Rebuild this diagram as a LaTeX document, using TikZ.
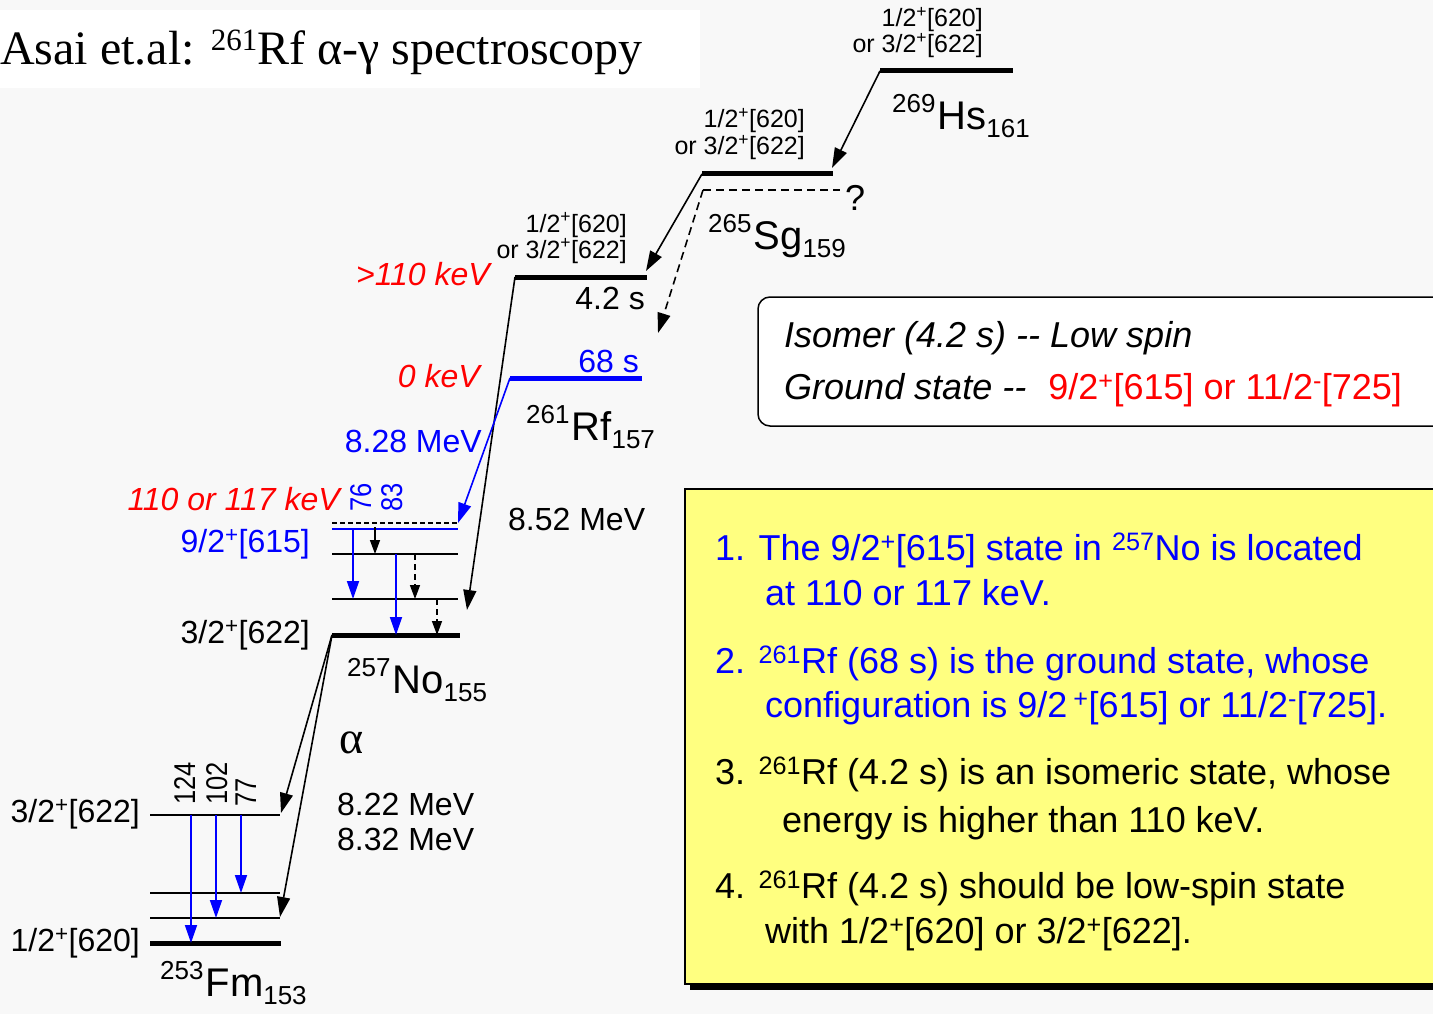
\documentclass[tikz,border=0pt]{standalone}
\usepackage{fontspec}
\setmainfont{Liberation Sans}
\newfontfamily\titlefont{Liberation Serif}
\newfontfamily\rotfont[FakeStretch=0.85]{Liberation Sans}
\usetikzlibrary{arrows.meta}
\definecolor{pureblue}{HTML}{0000FF}
\definecolor{purered}{HTML}{FF0000}
\definecolor{note}{HTML}{FFFF80}
\definecolor{paper}{HTML}{F8F8F8}
\newcommand\fs[1]{\fontsize{#1}{#1}\selectfont}
\newcommand\nuc[3]{{\fs{26}\raisebox{17pt}{#1}}\kern2pt{\fs{40}#2}{\fs{26}\raisebox{-8pt}{#3}}}
\newcommand\orbp[2]{#1\textsuperscript{+}[#2]}
\newcommand\orbm[2]{#1\textsuperscript{-}[#2]}
\tikzset{
  lvl/.style={line width=5pt},
  sublvl/.style={line width=1.6pt},
  decay/.style={-{Triangle[length=20pt,width=13pt]}, line width=1.6pt},
  gam/.style={-{Triangle[length=18pt,width=12pt]}, line width=1.8pt, pureblue},
  cas/.style={-{Triangle[length=14pt,width=10pt]}, line width=1.5pt},
  txt/.style={inner sep=0pt},
  orb/.style={txt, anchor=base east, font=\fs{25}},
  lbl/.style={txt, font=\fs{32}},
  keV/.style={txt, anchor=base east, font=\fs{32}\itshape, purered},
  gline/.style={txt, rotate=90, anchor=base west, font=\rotfont\fs{30}},
  item/.style={txt, anchor=base west, font=\fs{36}},
}
\begin{document}
\begin{tikzpicture}[x=1pt,y=-1pt]
  \useasboundingbox (0,0) rectangle (1433,1014);
  \clip (0,0) rectangle (1433,1014);
  \fill[paper] (0,0) rectangle (1433,1014);
  \fill[white] (0,10) rectangle (700,88);
  \node[txt, anchor=base west, font=\titlefont\fs{48}] (title) at (0,65)
    {Asai et.al: {\fs{31}\raisebox{14pt}{261}}Rf α-γ spectroscopy};

  % levels
  \coordinate (hsL) at (880,71);  \coordinate (hsR) at (1013,71);
  \coordinate (sgL) at (702,174); \coordinate (sgR) at (833,174);
  \coordinate (sgdL) at (703,190); \coordinate (sgdR) at (840,190);
  \coordinate (rfiL) at (515,277); \coordinate (rfiR) at (647,277);
  \coordinate (rfgL) at (510,378); \coordinate (rfgR) at (642,378);
  \draw[lvl] (hsL) -- (hsR);
  \draw[lvl] (sgL) -- (sgR);
  \draw[sublvl, dash pattern=on 8pt off 5pt] (sgdL) -- (sgdR);
  \draw[lvl] (rfiL) -- (rfiR);
  \draw[lvl, pureblue] (rfgL) -- (rfgR);
  \foreach \y/\c in {554/black, 599/black} {
    \draw[sublvl, \c] (332,\y) -- (458,\y);
  }
  \coordinate (noA) at (332,523); \coordinate (noAr) at (458,523);
  \coordinate (noB) at (332,529); \coordinate (noBr) at (458,529);
  \coordinate (noL) at (332,635); \coordinate (noR) at (460,635);
  \draw[sublvl, dash pattern=on 5pt off 3pt] (noA) -- (noAr);
  \draw[line width=2pt, pureblue] (noB) -- (noBr);
  \draw[lvl] (noL) -- (noR);
  \coordinate (fmA) at (150,815); \coordinate (fmAr) at (280,815);
  \coordinate (fmL) at (150,943); \coordinate (fmR) at (281,943);
  \draw[sublvl] (fmA) -- (fmAr);
  \draw[sublvl] (150,893) -- (280,893);
  \draw[sublvl] (150,918) -- (280,918);
  \draw[lvl] (fmL) -- (fmR);

  % alpha decays
  \coordinate (sgTip) at (832,168);
  \coordinate (rfiTip) at (646,271);
  \coordinate (rfdTip) at (658,333);
  \coordinate (noTip) at (467,610);
  \coordinate (fmTipA) at (281,813);
  \coordinate (fmTipB) at (280,917);
  \draw[decay] (hsL) -- (sgTip);
  \draw[decay] (sgL) -- (rfiTip);
  \draw[decay, dash pattern=on 8pt off 5pt] (sgdL) -- (rfdTip);
  \draw[decay] (rfiL) -- (noTip);
  \draw[decay, pureblue] (rfgL) -- (noAr);
  \draw[decay] (noL) -- (fmTipA);
  \draw[decay] (noL) -- (fmTipB);

  % gamma lines
  \draw[gam] (353,529) -- (353,599);
  \draw[gam] (396,554) -- (396,635);
  \draw[cas] (375,527) -- (375,554);
  \draw[cas, dash pattern=on 6pt off 4pt] (415,554) -- (415,599);
  \draw[cas, dash pattern=on 6pt off 4pt] (437,599) -- (437,635);
  \draw[gam] (191,815) -- (191,943);
  \draw[gam] (216,815) -- (216,918);
  \draw[gam] (241,815) -- (241,893);
  \node[gline, pureblue] (g76) at (371,512) {76};
  \node[gline, pureblue] (g83) at (402,512) {83};
  \node[gline] (g124) at (195,805) {124};
  \node[gline] (g102) at (227,805) {102};
  \node[gline] (g77) at (256,807) {77};

  % level labels
  \node[orb] (hsA) at (983,27) {\orbp{1/2}{620}};
  \node[orb] (hsB) at (983,53) {or \orbp{3/2}{622}};
  \node[orb] (sgA) at (805,128) {\orbp{1/2}{620}};
  \node[orb] (sgB) at (805,155) {or \orbp{3/2}{622}};
  \node[orb] (rfA) at (627,232) {\orbp{1/2}{620}};
  \node[orb] (rfB) at (627,258) {or \orbp{3/2}{622}};
  \node[txt, anchor=base west, font=\fs{40}] (hs) at (892,130) {\nuc{269}{Hs}{161}};
  \node[txt, anchor=base west, font=\fs{40}] (sg) at (708,249) {\nuc{265}{Sg}{159}};
  \node[txt, anchor=base west, font=\fs{40}] (rf) at (526,440) {\nuc{261}{Rf}{157}};
  \node[txt, anchor=base west, font=\fs{40}] (no) at (347,693) {\nuc{257}{No}{155}};
  \node[txt, anchor=base west, font=\fs{40}] (fm) at (160,996) {\nuc{253}{Fm}{153}};
  \node[txt, anchor=base west, font=\fs{36}] (qm) at (845,211) {?};
  \node[lbl, anchor=base east] (t42) at (645,309) {4.2 s};
  \node[lbl, anchor=base east, pureblue] (t68) at (639,372) {68 s};
  \node[keV] (eIso) at (490,285) {>110 keV};
  \node[keV] (eGs) at (480,387) {0 keV};
  \node[keV] (eNo) at (340,510) {110 or 117 keV};
  \node[lbl, anchor=base east, pureblue] (q828) at (482,452) {8.28 MeV};
  \node[lbl, anchor=base west] (q852) at (508,530) {8.52 MeV};
  \node[lbl, anchor=base east, pureblue] (no92) at (310,552) {\orbp{9/2}{615}};
  \node[lbl, anchor=base east] (no32) at (310,643) {\orbp{3/2}{622}};
  \node[lbl, anchor=base east] (fm32) at (140,822) {\orbp{3/2}{622}};
  \node[lbl, anchor=base east] (fm12) at (140,951) {\orbp{1/2}{620}};
  \node[txt, anchor=base west, font=\titlefont\fs{46}] (alpha) at (339,753) {α};
  \node[lbl, anchor=base west] (q822) at (337,815) {8.22 MeV};
  \node[lbl, anchor=base west] (q832) at (337,850) {8.32 MeV};

  % boxes
  \draw[line width=1.5pt, rounded corners=12pt, fill=white] (758,297) rectangle (1460,426);
  \node[txt, anchor=base west, font=\fs{36}\itshape] (iso) at (784,347) {Isomer (4.2 s) -{}- Low spin};
  \node[txt, anchor=base west, font=\fs{36}] (gs) at (784,399)
    {\textit{Ground state -{}-}\hspace{22pt}\textcolor{purered}{\orbp{9/2}{615} or \orbm{11/2}{725}}};
  \fill[black] (690,495) rectangle (1460,990);
  \draw[line width=1.5pt, fill=note] (685,489) rectangle (1460,984);
  \node[item, pureblue] (n1a) at (715,560) {1. The \orbp{9/2}{615} state in \textsuperscript{257}No is located};
  \node[item, pureblue] (n1b) at (765,605) {at 110 or 117 keV.};
  \node[item, pureblue] (n2a) at (715,673) {2. \textsuperscript{261}Rf (68 s) is the ground state, whose};
  \node[item, pureblue] (n2b) at (765,717) {configuration is 9/2\,\textsuperscript{+}[615] or \orbm{11/2}{725}.};
  \node[item] (n3a) at (715,784) {3. \textsuperscript{261}Rf (4.2 s) is an isomeric state, whose};
  \node[item] (n3b) at (782,832) {energy is higher than 110 keV.};
  \node[item] (n4a) at (715,898) {4. \textsuperscript{261}Rf (4.2 s) should be low-spin state};
  \node[item] (n4b) at (765,943) {with \orbp{1/2}{620} or \orbp{3/2}{622}.};
\end{tikzpicture}
\end{document}
